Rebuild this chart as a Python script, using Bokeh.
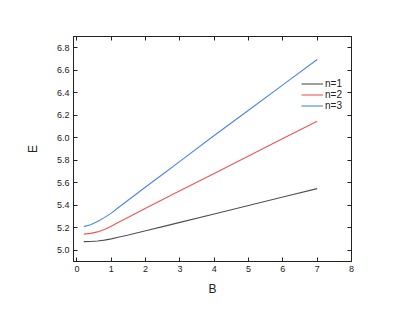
from bokeh.plotting import figure
from bokeh.models import (LinearAxis, SingleIntervalTicker, NumeralTickFormatter,
                          CustomJSTickFormatter, Legend, LegendItem, Range1d)
from bokeh.embed import file_html
from bokeh.resources import INLINE

B = [0.2, 0.4, 0.6, 0.8, 1.0, 1.2, 1.5, 2.0, 2.5, 3.0, 4.0, 5.0, 6.0, 7.0]
E_n1 = [5.077, 5.078, 5.082, 5.090, 5.101, 5.115, 5.136, 5.173, 5.210, 5.248, 5.323, 5.398, 5.473, 5.548]
E_n2 = [5.143, 5.150, 5.163, 5.184, 5.214, 5.246, 5.294, 5.373, 5.451, 5.528, 5.683, 5.838, 5.993, 6.147]
E_n3 = [5.210, 5.227, 5.255, 5.290, 5.330, 5.378, 5.447, 5.562, 5.676, 5.790, 6.020, 6.245, 6.470, 6.695]
labels = ["n=1", "n=2", "n=3"]
colors = ["#505050", "#f25454", "#4a86e8"]

FONT = "Liberation Sans"

p = figure(width=401, height=305, output_backend="svg", toolbar_location=None,
           x_range=Range1d(-0.1, 8.0), y_range=Range1d(4.9, 6.9),
           min_border_left=73, min_border_right=50, min_border_top=36, min_border_bottom=44)
p.grid.visible = False
p.outline_line_color = "#222222"
p.background_fill_color = "white"
p.border_fill_color = "white"

def style(ax, show_labels):
    ax.major_tick_in = 4
    ax.major_tick_out = 0
    ax.minor_tick_in = 0
    ax.minor_tick_out = 0
    ax.axis_line_color = "#222222"
    ax.major_tick_line_color = "#222222"
    ax.major_label_text_font = FONT
    ax.major_label_text_font_size = "9px"
    ax.major_label_text_color = "#222222"
    ax.axis_label_text_font = FONT
    ax.axis_label_text_font_size = "12px"
    ax.axis_label_text_font_style = "normal"
    ax.axis_label_text_color = "#222222"
    if not show_labels:
        ax.formatter = CustomJSTickFormatter(code="return '';")

xa = p.xaxis[0]
xa.ticker = SingleIntervalTicker(interval=1)
xa.axis_label = "B"
style(xa, True)
xa.major_label_standoff = 4
xa.axis_label_standoff = 7

ya = p.yaxis[0]
ya.ticker = SingleIntervalTicker(interval=0.2)
ya.formatter = NumeralTickFormatter(format="0.0")
ya.axis_label = "E"
style(ya, True)
ya.major_label_standoff = 4
ya.axis_label_standoff = 14

top = LinearAxis(ticker=SingleIntervalTicker(interval=1))
style(top, False)
p.add_layout(top, "above")
right = LinearAxis(ticker=SingleIntervalTicker(interval=0.2))
style(right, False)
p.add_layout(right, "right")

renderers = []
for ys, c in zip([E_n1, E_n2, E_n3], colors):
    r = p.line(B, ys, line_color=c, line_width=1.1)
    renderers.append(r)

legend = Legend(items=[LegendItem(label=l, renderers=[r]) for l, r in zip(labels, renderers)],
                location=(228, 150), orientation="vertical")
legend.background_fill_alpha = 0
legend.border_line_color = None
legend.label_text_font = FONT
legend.label_text_font_size = "10px"
legend.label_text_color = "#222222"
legend.glyph_width = 22
legend.glyph_height = 11
legend.label_height = 11
legend.label_standoff = 2
legend.spacing = 0
legend.padding = 0
legend.margin = 0
p.add_layout(legend, "center")

open("out.html", "w").write(file_html(p, INLINE))
